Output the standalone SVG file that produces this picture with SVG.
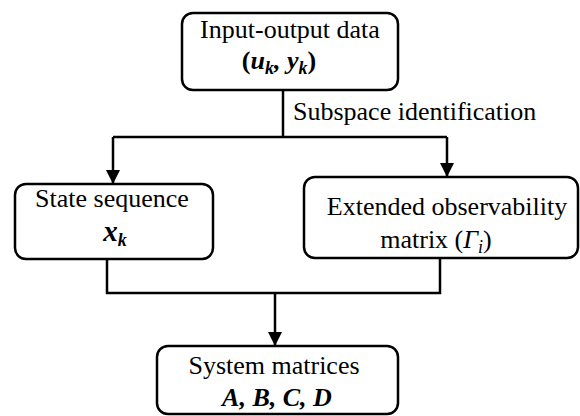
<svg xmlns="http://www.w3.org/2000/svg" width="580" height="416" viewBox="0 0 580 416">
  <style>
    .box { fill: #ffffff; stroke: #000000; stroke-width: 2.5; }
    .wire { fill: none; stroke: #000000; stroke-width: 2.5; }
    text { font-family: "Liberation Serif", "Times New Roman", serif; font-size: 26px; fill: #000000; }
    .mid { text-anchor: middle; }
    .math { font-weight: bold; font-style: italic; }
    .sub { font-size: 18px; }
  </style>
  <defs>
    <marker id="arrow" markerUnits="userSpaceOnUse" markerWidth="14" markerHeight="15" refX="14" refY="7" orient="auto">
      <path d="M0,0 L14,7 L0,14 Z" fill="#000000"/>
    </marker>
  </defs>
  <rect width="580" height="416" fill="#ffffff"/>

  <g id="connectors">
    <path class="wire" d="M283,90 V137"/>
    <path class="wire" d="M113,137 H447"/>
    <path class="wire" d="M113,137 V184" marker-end="url(#arrow)"/>
    <path class="wire" d="M447,137 V177" marker-end="url(#arrow)"/>
    <path class="wire" d="M107,259 V293 H440 V258"/>
    <path class="wire" d="M275,293 V346" marker-end="url(#arrow)"/>
    <text x="293" y="120">Subspace identification</text>
  </g>

  <g id="input-output">
    <rect class="box" x="182" y="13" width="216" height="77" rx="11"/>
    <text class="mid" x="290" y="38">Input-output data</text>
    <text class="mid" x="279" y="69"><tspan font-weight="bold">(</tspan><tspan class="math">u</tspan><tspan class="math sub" dy="5">k</tspan><tspan class="math" dy="-5">, y</tspan><tspan class="math sub" dy="5">k</tspan><tspan font-weight="bold" dy="-5">)</tspan></text>
  </g>

  <g id="state-sequence">
    <rect class="box" x="15" y="184" width="198" height="75" rx="11"/>
    <text class="mid" x="112" y="207">State sequence</text>
    <text class="mid" x="115" y="241"><tspan class="math" font-size="29">x</tspan><tspan class="math sub" dy="5">k</tspan></text>
  </g>

  <g id="observability">
    <rect class="box" x="304" y="177" width="274" height="81" rx="11"/>
    <text class="mid" x="447" y="215">Extended observability</text>
    <text class="mid" x="436" y="248">matrix (<tspan font-style="italic">Γ</tspan><tspan class="sub" font-style="italic" dy="5">i</tspan><tspan dy="-5">)</tspan></text>
  </g>

  <g id="system-matrices">
    <rect class="box" x="157" y="346" width="241" height="68" rx="11"/>
    <text class="mid" x="274" y="374">System matrices</text>
    <text class="mid math" x="277" y="406">A, B, C, D</text>
  </g>
</svg>
